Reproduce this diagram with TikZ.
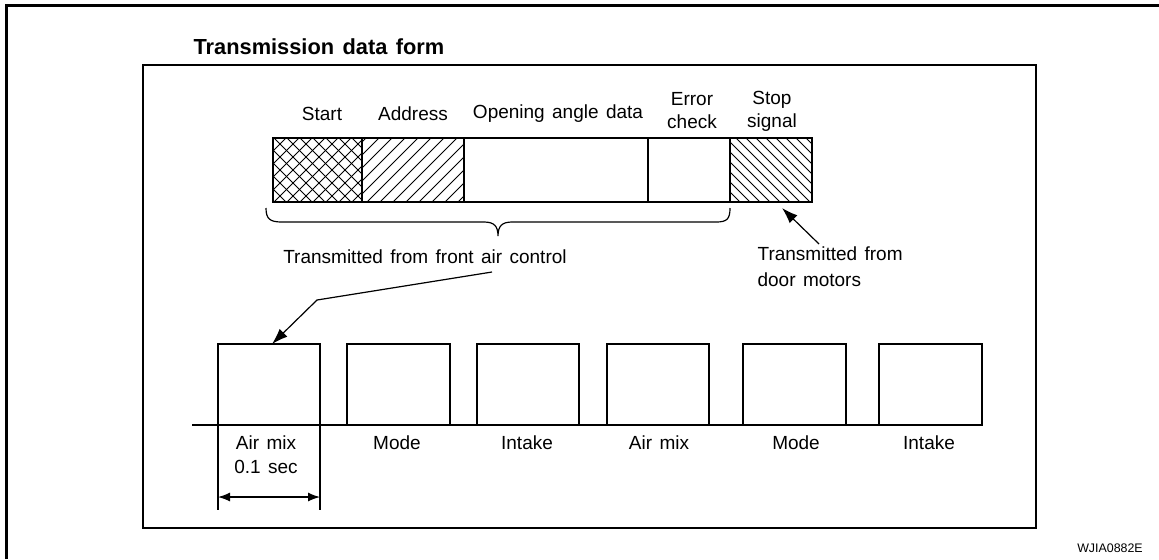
\documentclass[tikz,border=0pt]{standalone}
\usepackage{fontspec}
\setmainfont{Liberation Sans}[WordSpace=1.4]
\usetikzlibrary{arrows.meta,calc}
\begin{document}
\begin{tikzpicture}[x=0.5pt,y=-0.5pt,
  line width=0.6pt,
  lbl/.style={font=\fontsize{9.5}{11}\selectfont, inner sep=0pt, align=center},
  field/.style={draw, line width=0.65pt, minimum height=32pt, inner sep=0pt, outer sep=0pt},
  pulse/.style={draw, line width=0.65pt, minimum height=40.5pt, minimum width=51pt, inner sep=0pt, outer sep=0pt},
  hatch/.style={line width=0.4pt},
  tip/.style={-{Latex[length=8pt,width=5.5pt]}},
  dim/.style={{Latex[length=6pt,width=4.5pt]}-{Latex[length=6pt,width=4.5pt]}},
]
\useasboundingbox (0,0) rectangle (1159,559);
% outer frame
\draw[line width=1.5pt] (6,559) -- (6,5.5) -- (1159,5.5);
% title
\node[anchor=west, inner sep=0pt, font=\fontsize{10.9}{12}\bfseries\selectfont] (title) at (193,47) {Transmission data form};
% inner frame
\draw[line width=0.7pt] (143,65) rectangle (1036,528);

% data bar fields
\node[field, minimum width=44.5pt] (start) at (317.5,170) {};
\node[field, minimum width=51pt] (addr) at (413,170) {};
\node[field, minimum width=92pt] (open) at (556,170) {};
\node[field, minimum width=41pt] (err) at (689,170) {};
\node[field, minimum width=41pt] (stop) at (771,170) {};

% hatching
\begin{scope}
  \clip (start.south west) rectangle (start.north east);
  \foreach \i in {-64,-51,...,95} {
    \draw[hatch] ($(start.south west)+(\i,0)$) -- ++(64,-64);
    \draw[hatch] ($(start.north west)+(\i,0)$) -- ++(64,64);
  }
\end{scope}
\begin{scope}
  \clip (addr.south west) rectangle (addr.north east);
  \foreach \i in {-60,-47,...,110} {
    \draw[hatch] ($(addr.south west)+(\i,0)$) -- ++(64,-64);
  }
\end{scope}
\begin{scope}
  \clip (stop.south west) rectangle (stop.north east);
  \foreach \i in {-64,-54,...,90} {
    \draw[hatch] ($(stop.north west)+(\i,0)$) -- ++(64,64);
  }
\end{scope}

% field labels
\node[lbl] (lstart) at (322,114) {Start};
\node[lbl] (laddr) at (413,114) {Address};
\node[lbl] (lopen) at (558,114) {Opening angle data};
\node[lbl, font=\fontsize{9.5}{11.5}\selectfont] (lerr) at (692,111) {Error\\check};
\node[lbl, font=\fontsize{9.5}{11.5}\selectfont] (lstop) at (772,111) {Stop\\signal};

% brace
\draw (266,208) .. controls (266,219) and (270,222) .. (282,222) -- (484,222)
      .. controls (494,222) and (498,226) .. (498,236)
      .. controls (498,226) and (502,222) .. (512,222) -- (716,222)
      .. controls (727,222) and (730,219) .. (730,208);

% transmitted texts
\node[lbl] (tfront) at (425,257) {Transmitted from front air control};
\node[lbl, anchor=west, align=left, font=\fontsize{9.5}{13}\selectfont] (tdoor) at (757,267) {Transmitted from\\door motors};

% pulses
\node[pulse] (b1) at (269,384.5) {};
\node[pulse, minimum width=51.5pt] (b2) at (398.5,384.5) {};
\node[pulse] (b3) at (528,384.5) {};
\node[pulse] (b4) at (658,384.5) {};
\node[pulse, minimum width=51.5pt] (b5) at (794.5,384.5) {};
\node[pulse, minimum width=51.5pt] (b6) at (930.5,384.5) {};
\coordinate (bl) at (192,425);
\draw (bl) -- (b6.south east);

% pulse labels
\node[lbl, font=\fontsize{9.5}{12}\selectfont] (p1) at (266,455) {Air mix\\0.1 sec};
\node[lbl] (p2) at (397,443) {Mode};
\node[lbl] (p3) at (527,443) {Intake};
\node[lbl] (p4) at (659,443) {Air mix};
\node[lbl] (p5) at (796,443) {Mode};
\node[lbl] (p6) at (929,443) {Intake};

% dimension
\draw (b1.south west) -- ++(0,85);
\draw (b1.south east) -- ++(0,85);
\draw[dim] ($(b1.south west)+(0,72)$) -- ($(b1.south east)+(0,72)$);

% leaders
\coordinate (f1) at (492,272);
\coordinate (f2) at (317,300);
\draw[tip] (f1) -- (f2) -- ([xshift=1.5pt]b1.north);
\coordinate (d1) at (819,244);
\draw[tip] (d1) -- ([xshift=5.5pt,yshift=-3pt]stop.south);

% code
\node[inner sep=0pt, font=\fontsize{6.2}{7}\selectfont] (code) at (1110,548) {WJIA0882E};
\end{tikzpicture}
\end{document}
